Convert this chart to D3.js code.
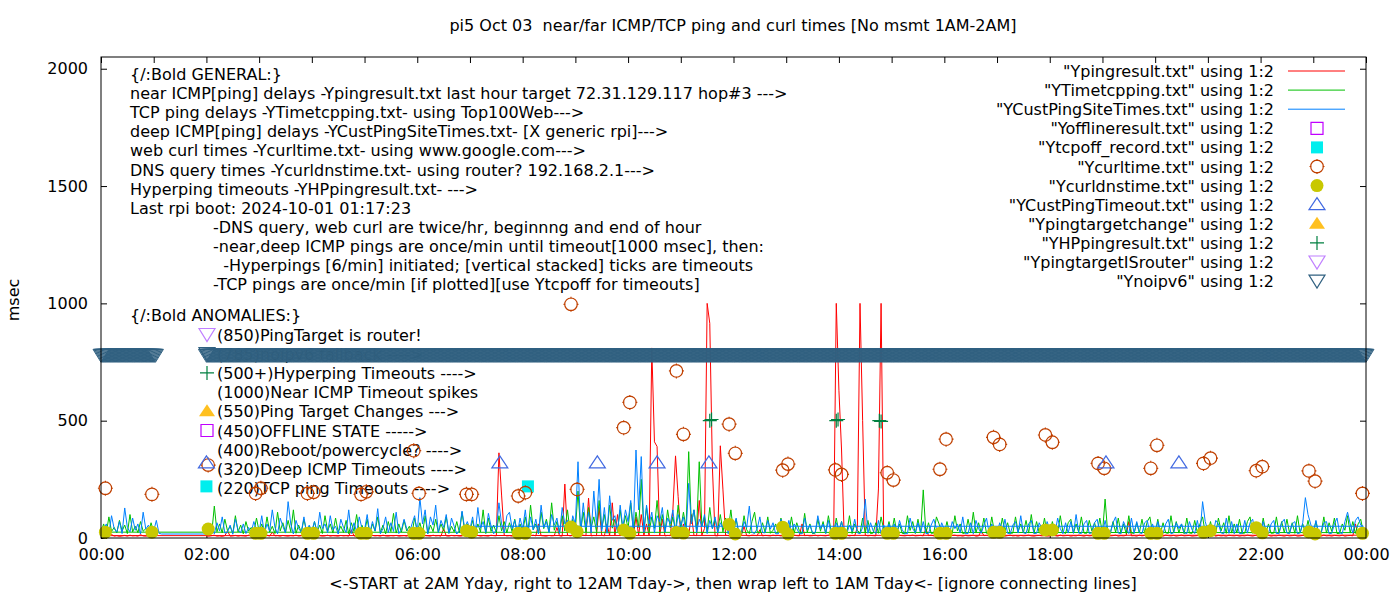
<!DOCTYPE html>
<meta charset="utf-8">
<script src="https://cdn.jsdelivr.net/npm/d3@7"></script>
<style>
body { margin: 0; background: #fff; }
text { font-family: "DejaVu Sans", sans-serif; font-size: 16px; fill: #000; white-space: pre; }
</style>
<body>
<script>
// ---- data ----
var STEP = 3; // minutes between samples in the dense series

// near ICMP (Ypingresult.txt), one row per hour of day, 3 min samples
var nearRows = [
  [10,8,12,9,15,8,10,7,9,11,8,12,9,10,8,14,9,8,10,12],
  [12,12],
  [9,8,10,12,8,9,7,10,30,8,9,11,8,10,9,8,12,9,10,8],
  [8,10,9,12,8,25,9,10,8,11,9,8,10,9,12,8,10,9,8,11],
  [9,8,11,10,8,9,12,8,10,9,8,11,9,10,8,35,9,8,10,9],
  [10,9,8,11,9,10,8,12,9,8,10,9,11,8,9,10,8,12,9,10],
  [9,11,8,10,9,8,12,9,10,8,40,9,8,11,9,10,8,9,12,8],
  [10,8,9,11,8,10,9,8,12,10,9,363,183,12,9,10,8,11,9,10],
  [9,11,8,10,12,9,60,10,9,8,11,9,10,45,9,8,230,12,9,11],
  [10,50,9,12,10,170,9,11,10,130,12,9,60,10,150,9,100,10,12,9],
  [11,40,10,90,12,100,11,60,9,810,410,390,10,80,9,11,10,120,350,176],
  [10,60,12,9,100,11,10,160,12,40,1000,915,300,10,9,393,205,12,10,9],
  [10,12,9,11,50,10,9,12,11,10,35,9,11,10,9,12,10,11,9,10],
  [10,9,11,12,10,9,60,10,11,9,10,12,9,11,10,9,12,10,9,1000],
  [630,375,10,12,9,11,10,45,1000,500,12,9,11,10,9,209,1000,10,9,11],
  [10,9,12,11,10,9,11,10,12,9,10,11,9,40,10,12,9,11,10,9],
  [9,10,8,11,12,9,10,8,11,9,10,12,8,9,30,10,11,9,8,10],
  [10,9,11,8,10,12,9,10,8,11,9,10,12,9,8,10,11,9,10,8],
  [9,11,10,8,12,9,10,11,8,10,9,12,10,8,11,9,10,12,9,10],
  [10,8,11,9,10,12,8,10,9,11,70,9,10,8,12,9,11,10,8,9],
  [11,9,10,8,12,10,9,11,8,10,12,9,10,11,8,9,10,12,9,10],
  [9,10,12,8,11,9,10,8,12,10,9,11,8,10,9,12,10,8,11,9],
  [10,12,9,11,8,10,9,12,10,8,11,9,10,12,8,9,11,10,9,12],
  [9,10,11,8,12,9,10,8,11,10,9,12,8,10,11,9,60,10,9,12]
];

// TCP ping (YTimetcpping.txt)
var tcpRows = [
  [25,60,20,90,28,45,22,75,30,55,19,100,26,50,23,70,29,40,21,65],
  [24,23],
  [23,45,19,136,27,60,22,80,31,50,20,95,26,55,18,70,29,45,24,85],
  [28,60,21,90,25,50,19,110,30,65,23,75,27,120,20,55,24,80,29,50],
  [22,70,27,55,19,95,30,60,21,85,26,50,24,75,18,65,28,100,22,55],
  [26,80,20,60,29,90,23,55,18,70,27,105,21,60,25,75,30,50,19,85],
  [28,65,22,95,19,55,27,80,24,60,31,90,20,50,26,70,23,110,29,60],
  [30,75,21,60,26,120,19,85,28,55,23,95,30,70,22,65,27,80,20,60],
  [28,90,24,140,35,60,22,110,40,80,27,150,33,70,25,95,30,120,26,80],
  [35,200,30,110,26,130,45,90,28,160,38,100,24,140,42,80,31,120,36,95],
  [40,150,29,110,45,250,33,130,27,90,41,160,35,100,26,120,44,90,30,140],
  [38,110,45,368,60,120,34,325,50,90,28,130,40,80,32,100,26,85,35,120],
  [22,80,22,21,95,35,19,70,110,28,21,65,24,90,20,33,60,21,85,25],
  [27,21,90,20,65,31,19,105,24,60,18,21,80,29,70,20,95,34,21,85],
  [24,70,21,22,95,19,60,33,20,85,22,75,19,21,65,20,90,35,21,70],
  [22,85,21,60,20,18,95,32,70,19,80,21,205,22,65,20,21,90,60,23],
  [21,70,21,20,95,30,60,19,22,80,25,110,21,65,22,85,20,21,90,26],
  [23,20,85,30,65,20,21,90,27,60,22,75,21,100,20,70,22,21,85,19],
  [22,70,22,20,95,26,19,65,80,21,60,25,90,21,20,75,30,65,21,85],
  [20,166,21,22,70,24,85,20,60,19,95,21,20,65,22,80,21,70,90,21],
  [21,80,20,65,22,20,95,24,70,21,60,18,85,21,20,75,23,60,90,21],
  [24,70,19,21,85,30,65,20,95,21,60,22,80,20,21,70,90,20,65,22],
  [21,85,23,60,20,21,90,20,70,22,80,21,65,20,95,21,60,22,75,21],
  [25,70,20,21,90,21,65,28,85,19,20,60,33,95,21,70,20,60,80,23]
];

// deep ICMP (YCustPingSiteTimes.txt)
var deepRows = [
  [22,35,60,18,95,40,25,70,19,128,45,26,85,33,60,17,110,38,55,27],
  [30,75,20,17],
  [17,25,40,18,65,30,90,21,24,55,16,80,36,22,60,19,45,25,70,32],
  [26,95,19,60,30,120,45,18,85,50,21,155,60,17,75,40,25,90,20,55],
  [30,70,18,110,40,60,22,95,35,50,17,80,45,24,120,19,65,26,90,42],
  [35,100,20,70,30,125,18,40,90,23,65,28,110,19,35,80,40,21,60,95],
  [22,172,60,120,18,90,55,140,24,75,45,100,20,85,50,17,32,115,40,70],
  [38,90,19,130,42,70,23,105,50,18,35,150,60,21,95,110,40,75,17,85],
  [40,120,20,90,35,80,18,140,45,70,23,100,55,85,19,130,60,75,21,95],
  [60,325,25,150,45,110,22,200,55,250,30,130,20,180,75,95,26,140,45,120],
  [70,160,28,375,120,347,24,140,60,110,21,95,70,130,25,85,60,120,22,100],
  [55,90,20,233,60,120,23,80,50,100,19,75,40,90,22,65,45,80,18,70],
  [28,85,21,19,70,45,136,24,19,40,90,23,22,75,38,65,18,18,80,35],
  [22,75,20,60,40,19,18,85,35,55,21,22,95,40,60,19,75,20,21,65],
  [30,70,19,20,55,28,80,22,18,45,166,20,65,30,19,75,18,55,23,60],
  [20,60,20,75,35,18,19,85,40,21,65,22,70,19,20,55,80,40,21,65],
  [35,19,20,70,40,60,22,90,18,19,65,18,75,40,20,55,85,21,60,20],
  [19,65,21,80,20,18,55,70,21,95,22,19,60,75,19,20,65,40,23,70],
  [35,20,19,85,40,18,65,21,70,20,100,21,19,60,75,19,22,65,80,22],
  [19,75,19,20,65,90,21,18,70,40,19,85,20,70,22,19,65,75,20,60],
  [20,70,21,19,60,80,18,22,65,40,60,22,19,70,35,19,75,20,155,70],
  [30,19,20,75,60,22,18,85,20,70,18,60,19,20,75,21,65,80,19,60],
  [20,70,22,19,60,75,19,20,65,80,21,19,60,70,18,22,65,172,100,60],
  [19,75,20,21,65,70,18,20,60,85,22,19,70,110,60,21,75,90,55,50]
];
var deepTail = [["07:06", 50]];

// file order of the hour rows (2AM yesterday .. midnight, then wrap to today)
var nearOrder = [2,3,4,5,6,7,8,9,10,11,12,13,14,15,16,17,18,19,20,21,22,23,0,1];
var deepOrder = [0,1,2,3,4,5,6,7,8,9,10,11,12,13,14,15,16,17,18,19,20,21,22,23];

var curlTimes = [["00:05",212],["00:58",186],["02:02",311],["02:56",190],["03:02",212],["03:55",190],
  ["04:02",195],["04:56",186],["05:02",197],["05:56",372],["06:02",190],["06:56",186],["07:02",186],
  ["07:55",179],["08:03",193],["08:55",996],["09:02",207],["09:55",470],["10:02",578],["10:55",712],
  ["11:03",442],["11:55",485],["12:02",361],["12:56",289],["13:02",315],["13:56",290],["14:03",271],
  ["14:55",278],["15:02",247],["15:55",293],["16:02",421],["16:56",429],["17:03",399],["17:55",439],
  ["18:03",408],["18:55",318],["19:02",297],["19:55",297],["20:02",395],["20:55",318],["21:03",340],
  ["21:55",287],["22:02",304],["22:55",286],["23:02",242],["23:56",190]];
var dnsTimes = [["00:05",25],["00:58",25],["02:02",38],["02:56",20],["03:02",20],["03:55",20],
  ["04:02",20],["04:56",20],["05:02",20],["05:56",20],["06:02",20],["06:56",31],["07:02",25],
  ["07:55",20],["08:03",20],["08:55",47],["09:02",27],["09:55",34],["10:02",20],["10:55",23],
  ["11:03",21],["11:55",58],["12:02",17],["12:56",46],["13:02",17],["13:56",20],["14:03",20],
  ["14:55",20],["15:02",20],["15:55",20],["16:02",20],["16:56",24],["17:03",24],["17:55",34],
  ["18:03",34],["18:55",20],["19:02",20],["19:55",20],["20:02",20],["20:55",24],["21:03",31],
  ["21:55",44],["22:02",22],["22:55",26],["23:02",17],["23:56",20]];
var deepTimeouts = [["02:00",320],["07:34",320],["09:25",320],["10:33",320],["11:32",320],["19:04",320],["20:27",320]];
var tcpOff = [["02:00",220],["08:06",220]];
var hyperping = [["11:33",500],["11:35",505],["13:57",500],["13:59",505],["14:46",500],["14:48",497]];
var noipv6Ranges = [["00:00","01:02"],["02:00","24:00"]];
var noipv6Value = 785;

var xTicks = [0,1,2,3,4,5,6,7,8,9,10,11,12,13,14,15,16,17,18,19,20,21,22,23,24];
var yTicks = [0,500,1000,1500,2000];

var legendLabels = ['"Ypingresult.txt" using 1:2','"YTimetcpping.txt" using 1:2','"YCustPingSiteTimes.txt" using 1:2',
  '"Yofflineresult.txt" using 1:2','"Ytcpoff_record.txt" using 1:2','"Ycurltime.txt" using 1:2',
  '"Ycurldnstime.txt" using 1:2','"YCustPingTimeout.txt" using 1:2','"Ypingtargetchange" using 1:2',
  '"YHPpingresult.txt" using 1:2','"YpingtargetISrouter" using 1:2','"Ynoipv6" using 1:2'];
var legendSymbols = ['line','line','line','sqOpen','sqFill','circOpen','circFill','triUp','triUpFill','plus','triDown','triDown'];
var colors = ['#ff0000','#00c000','#0080ff','#c000ff','#00eeee','#c04000','#c8c800','#4169e1','#ffc020','#008040','#c080ff','#306080'];

var generalLines = ['{/:Bold GENERAL:}',
  'near ICMP[ping] delays -Ypingresult.txt last hour target 72.31.129.117 hop#3 --->',
  'TCP ping delays -YTimetcpping.txt- using Top100Web--->',
  'deep ICMP[ping] delays -YCustPingSiteTimes.txt- [X generic rpi]--->',
  'web curl times -Ycurltime.txt- using www.google.com--->',
  'DNS query times -Ycurldnstime.txt- using router? 192.168.2.1--->',
  'Hyperping timeouts -YHPpingresult.txt- --->',
  'Last rpi boot: 2024-10-01 01:17:23'];
var noteLines = ['-DNS query, web curl are twice/hr, beginnng and end of hour',
  '-near,deep ICMP pings are once/min until timeout[1000 msec], then:',
  '  -Hyperpings [6/min] initiated; [vertical stacked] ticks are timeouts',
  '-TCP pings are once/min [if plotted][use Ytcpoff for timeouts]'];
var anomalyLines = ['(850)PingTarget is router!','(785)noipv6 fallback ---->','(500+)Hyperping Timeouts ---->',
  '(1000)Near ICMP Timeout spikes','(550)Ping Target Changes --->','(450)OFFLINE STATE ----->',
  '(400)Reboot/powercycle? ---->','(320)Deep ICMP Timeouts ---->','(220)TCP ping Timeouts ---->'];
var anomalySymbols = ['triDown','triDown','plus',null,'triUpFill','sqOpen',null,null,null];
var anomalyColors = ['#c080ff','#306080','#008040',null,'#ffc020','#c000ff',null,null,null];

// ---- helpers ----
function hrs(s) { var p = s.split(':'); return +p[0] + (+p[1]) / 60; }
function rowsToPoints(rows, order) {
  var pts = [];
  order.forEach(function(h) {
    rows[h].forEach(function(v, i) { pts.push([h + i * STEP / 60, v]); });
  });
  return pts;
}

var W = 1400, H = 600;
var plot = {left: 101, right: 1366, top: 57, bottom: 538};

var svg = d3.select('body').append('svg').attr('width', W).attr('height', H);

var x = d3.scaleLinear().domain([0, 24]).range([plot.left, plot.right]);
var y = d3.scaleLinear().domain([0, 2050]).range([plot.bottom, plot.top]);

function symbolPath(type) {
  switch (type) {
    case 'sqOpen': case 'sqFill': return 'M-6,-6H6V6H-6Z';
    case 'circOpen': return 'M-6.3,0A6.3,6.3 0 1,0 6.3,0A6.3,6.3 0 1,0 -6.3,0Z M0,-7.5V-5.5 M0,5.5V7.5 M-7.5,0H-5.5 M5.5,0H7.5';
    case 'circFill': return 'M-6.5,0A6.5,6.5 0 1,0 6.5,0A6.5,6.5 0 1,0 -6.5,0Z';
    case 'triUp': case 'triUpFill': return 'M0,-7L8,5H-8Z';
    case 'triDown': return 'M-8,-6H8L0,7Z';
    case 'plus': return 'M-7,0H7M0,-7V7';
  }
}
function drawSymbol(g, type, color, cx, cy) {
  var filled = (type === 'sqFill' || type === 'circFill' || type === 'triUpFill');
  return g.append('path')
    .attr('d', symbolPath(type))
    .attr('transform', 'translate(' + cx + ',' + cy + ')')
    .attr('fill', filled ? color : 'none')
    .attr('stroke', filled ? 'none' : color)
    .attr('stroke-width', 1.2);
}

// ---- title and axis labels ----
svg.append('text').attr('x', 733).attr('y', 31).attr('text-anchor', 'middle')
  .text('pi5 Oct 03  near/far ICMP/TCP ping and curl times [No msmt 1AM-2AM]');
svg.append('text').attr('transform', 'translate(19,300) rotate(-90)').attr('text-anchor', 'middle')
  .text('msec');
svg.append('text').attr('x', 733).attr('y', 589).attr('text-anchor', 'middle')
  .text('<-START at 2AM Yday, right to 12AM Tday->, then wrap left to 1AM Tday<- [ignore connecting lines]');

// ---- annotations (behind data) ----
var notes = svg.append('g');
generalLines.forEach(function(t, i) {
  notes.append('text').attr('x', 130).attr('y', 80 + i * 19.1).text(t);
});
noteLines.forEach(function(t, i) {
  notes.append('text').attr('x', 213).attr('y', 80 + (i + 8) * 19.1).text(t);
});
notes.append('text').attr('x', 130).attr('y', 321).text('{/:Bold ANOMALIES:}');
anomalyLines.forEach(function(t, i) {
  var cy = 334.5 + i * 19.2;
  notes.append('text').attr('x', 217).attr('y', cy + 6).text(t);
  if (anomalySymbols[i]) drawSymbol(notes, anomalySymbols[i], anomalyColors[i], 207, cy);
});

// ---- axes ----
svg.append('g').attr('transform', 'translate(0,' + plot.bottom + ')')
  .call(d3.axisBottom(x).tickValues(xTicks).tickSizeInner(-6).tickSizeOuter(0).tickPadding(11)
    .tickFormat(function(d) { return d % 2 === 0 ? d3.format('02d')(d % 24) + ':00' : ''; }))
  .call(function(g) { g.select('.domain').remove(); });
svg.append('g').attr('transform', 'translate(0,' + plot.top + ')')
  .call(d3.axisTop(x).tickValues(xTicks).tickSizeInner(-6).tickSizeOuter(0).tickFormat(''))
  .call(function(g) { g.select('.domain').remove(); });
svg.append('g').attr('transform', 'translate(' + plot.left + ',0)')
  .call(d3.axisLeft(y).tickValues(yTicks).tickSizeInner(-6).tickSizeOuter(0).tickPadding(13).tickFormat(d3.format('d')))
  .call(function(g) { g.select('.domain').remove(); });
svg.append('g').attr('transform', 'translate(' + plot.right + ',0)')
  .call(d3.axisRight(y).tickValues(yTicks).tickSizeInner(-6).tickSizeOuter(0).tickFormat(''))
  .call(function(g) { g.select('.domain').remove(); });
svg.selectAll('.tick line').attr('stroke', '#000');
svg.selectAll('.tick text').attr('fill', '#000')
  .style('font-family', '"DejaVu Sans", sans-serif').style('font-size', '16px');

// ---- series ----
var line = d3.line().x(function(d) { return x(d[0]); }).y(function(d) { return y(d[1]); });
var nearPts = rowsToPoints(nearRows, nearOrder);
var tcpPts = rowsToPoints(tcpRows, nearOrder);
var deepPts = rowsToPoints(deepRows, deepOrder).concat(deepTail.map(function(d) { return [hrs(d[0]), d[1]]; }));

[[nearPts, colors[0]], [tcpPts, colors[1]], [deepPts, colors[2]]].forEach(function(s) {
  svg.append('path').datum(s[0]).attr('d', line)
    .attr('fill', 'none').attr('stroke', s[1]).attr('stroke-width', 1);
});

var marks = svg.append('g');
function plotPoints(data, type, color) {
  data.forEach(function(d) { drawSymbol(marks, type, color, x(hrs(d[0])), y(d[1])); });
}
plotPoints(tcpOff, 'sqFill', colors[4]);
plotPoints(curlTimes, 'circOpen', colors[5]);
plotPoints(dnsTimes, 'circFill', colors[6]);
plotPoints(deepTimeouts, 'triUp', colors[7]);
plotPoints(hyperping, 'plus', colors[9]);

// noipv6: one sample per minute inside each range
var noipv6 = [];
noipv6Ranges.forEach(function(r) {
  for (var m = Math.round(hrs(r[0]) * 60); m <= Math.round(hrs(r[1]) * 60); m++) noipv6.push(m / 60);
});
noipv6.forEach(function(t) {
  drawSymbol(marks, 'triDown', colors[11], x(t), y(noipv6Value) + 1.5).attr('stroke-width', 1);
});

// ---- frame ----
svg.append('rect').attr('x', plot.left).attr('y', plot.top)
  .attr('width', plot.right - plot.left).attr('height', plot.bottom - plot.top)
  .attr('fill', 'none').attr('stroke', '#000').attr('stroke-width', 1);

// ---- legend ----
var legend = svg.append('g');
legendLabels.forEach(function(t, i) {
  var cy = 71 + i * 19.1;
  legend.append('text').attr('x', 1274).attr('y', cy + 6).attr('text-anchor', 'end').text(t);
  if (legendSymbols[i] === 'line') {
    legend.append('line').attr('x1', 1288).attr('x2', 1345).attr('y1', cy).attr('y2', cy)
      .attr('stroke', colors[i]).attr('stroke-width', 1);
  } else {
    drawSymbol(legend, legendSymbols[i], colors[i], 1317, cy);
  }
});
</script>
</body>
